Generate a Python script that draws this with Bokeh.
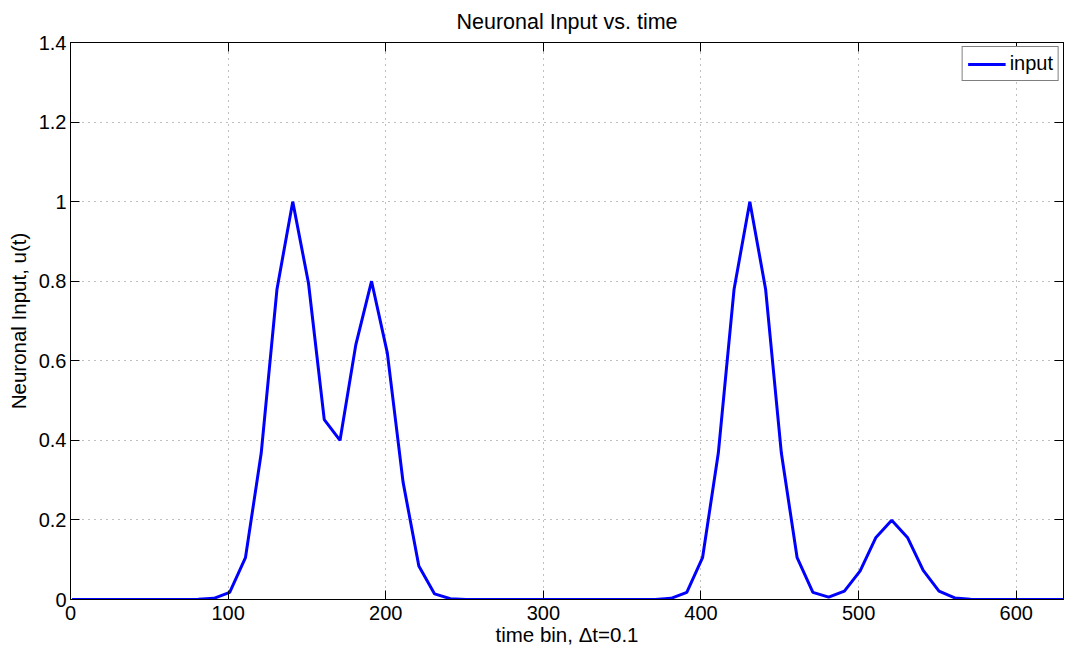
from bokeh.plotting import figure
from bokeh.models import (Range1d, FixedTicker, LinearAxis, CustomJSTickFormatter,
                          Legend, LegendItem, CustomLabelingPolicy)
from bokeh.embed import file_html
from bokeh.resources import INLINE

# ---- data ----
time_bin = [1, 11, 21, 31, 41, 51, 61, 71, 81, 91, 101, 111, 121, 131, 141, 151,
            161, 171, 181, 191, 201, 211, 221, 231, 241, 251, 261, 271, 281, 291,
            301, 311, 321, 331, 341, 351, 361, 371, 381, 391, 401, 411, 421, 431,
            441, 451, 461, 471, 481, 491, 501, 511, 521, 531, 541, 551, 561, 571,
            581, 591, 601, 611, 621, 631]
neuronal_input = [0, 0, 0, 0, 0, 0, 0, 0, 0.0005, 0.003, 0.018, 0.105, 0.368, 0.78,
                  1.0, 0.795, 0.452, 0.40, 0.64, 0.80, 0.62, 0.295, 0.084, 0.014,
                  0.002, 0.0003, 0, 0, 0, 0, 0, 0, 0, 0, 0, 0, 0, 0.0003, 0.003,
                  0.018, 0.105, 0.368, 0.78, 1.0, 0.78, 0.368, 0.105, 0.018, 0.006,
                  0.021, 0.072, 0.156, 0.199, 0.156, 0.073, 0.021, 0.004, 0.0005,
                  0, 0, 0, 0, 0, 0]
x_ticks = [0, 100, 200, 300, 400, 500, 600]
y_ticks = [0, 0.2, 0.4, 0.6, 0.8, 1.0, 1.2, 1.4]

FONT = "Liberation Sans"
FS = "20px"

p = figure(width=1069, height=657, output_backend="svg", toolbar_location=None,
           x_range=Range1d(0, 630), y_range=Range1d(0, 1.4),
           min_border_left=70, min_border_right=6, min_border_top=42,
           min_border_bottom=58, title="Neuronal Input vs. time")
p.background_fill_color = "white"
p.border_fill_color = "white"
p.outline_line_color = "black"
p.outline_line_width = 1

p.title.align = "center"
p.title.text_font = FONT
p.title.text_font_size = "21.5px"
p.title.text_font_style = "normal"
p.title.text_color = "black"
p.title.standoff = 10

fmt = CustomJSTickFormatter(code="return String(Math.round(tick*10)/10);")

for ax in (p.xaxis[0], p.yaxis[0]):
    ax.major_tick_in = 9
    ax.major_tick_out = 0
    ax.minor_tick_out = 0
    ax.minor_tick_in = 0
    ax.axis_line_color = "black"
    ax.major_tick_line_color = "black"
    ax.major_label_text_font = FONT
    ax.major_label_text_font_size = FS
    ax.major_label_text_color = "black"
    ax.axis_label_text_font = FONT
    ax.axis_label_text_font_size = "20.5px"
    ax.axis_label_text_font_style = "normal"
    ax.axis_label_text_color = "black"

p.xaxis[0].ticker = FixedTicker(ticks=x_ticks)
p.yaxis[0].ticker = FixedTicker(ticks=y_ticks)
p.xaxis[0].formatter = fmt
p.yaxis[0].formatter = fmt
p.xaxis[0].axis_label = "time bin, \u0394t=0.1"
p.yaxis[0].axis_label = "Neuronal Input, u(t)"
p.xaxis[0].major_label_standoff = 6
p.xaxis[0].axis_label_standoff = 0
p.yaxis[0].major_label_standoff = 4
p.yaxis[0].axis_label_standoff = 6

hide_all = CustomLabelingPolicy(code="for (const i of indices) indices.unset(i)")
top_ax = LinearAxis(ticker=FixedTicker(ticks=x_ticks), major_label_policy=hide_all,
                    major_label_text_font_size="1px",
                    major_label_standoff=0, major_tick_in=9, major_tick_out=0,
                    minor_tick_in=0, minor_tick_out=0, axis_line_color="black")
right_ax = LinearAxis(ticker=FixedTicker(ticks=y_ticks), major_label_policy=hide_all,
                      major_label_text_font_size="1px",
                      major_label_standoff=0, major_tick_in=9, major_tick_out=0,
                      minor_tick_in=0, minor_tick_out=0, axis_line_color="black")
p.add_layout(top_ax, "above")
p.add_layout(right_ax, "right")

p.xgrid.ticker = FixedTicker(ticks=x_ticks)
p.ygrid.ticker = FixedTicker(ticks=y_ticks)
for g in (p.xgrid[0], p.ygrid[0]):
    g.grid_line_color = "#808080"
    g.grid_line_dash = "1 5"
    g.grid_line_width = 1

r = p.line(time_bin, neuronal_input, line_color="#0000ff", line_width=3)

legend = Legend(items=[LegendItem(label="input", renderers=[r])], location="top_right")
legend.label_text_font = FONT
legend.label_text_font_size = FS
legend.label_text_color = "black"
legend.border_line_color = "black"
legend.border_line_width = 1
legend.background_fill_color = "white"
legend.background_fill_alpha = 1
legend.margin = 4
legend.padding = 5
legend.spacing = 0
legend.glyph_width = 38
legend.glyph_height = 20
legend.label_standoff = 4
legend.label_height = 20
p.add_layout(legend)

open("out.html", "w").write(file_html(p, INLINE))
